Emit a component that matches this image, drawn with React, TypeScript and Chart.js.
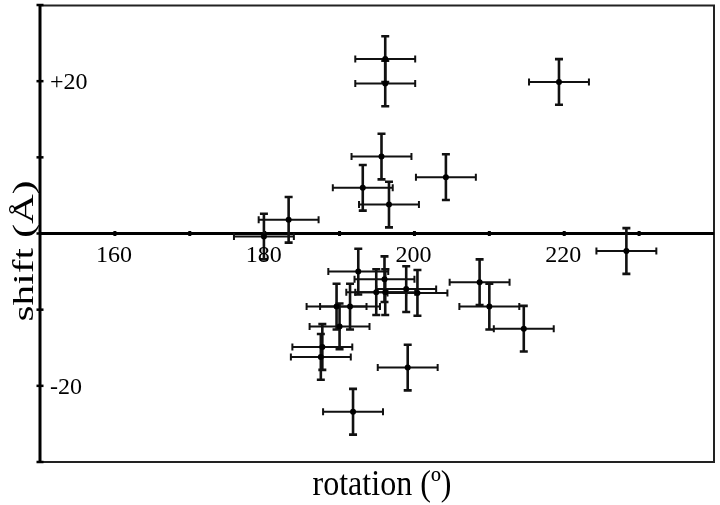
import React, { useEffect, useRef } from 'react';
import { Chart, registerables } from 'chart.js';

Chart.register(...registerables);

// ---- data ----
const rotation = [
  196.1, 196.1, 195.6, 193.1, 196.6, 204.2, 219.3, 228.3, 183.2, 179.9,
  192.5, 196.0, 194.9, 196.1, 198.9, 200.4, 189.6, 191.4, 190.0, 187.7,
  187.5, 199.1, 191.8, 208.7, 210.0, 214.6,
];
const shift = [
  22.9, 19.7, 10.1, 6.0, 3.8, 7.4, 19.9, -2.3, 1.8, -0.4,
  -5.0, -6.0, -7.7, -7.7, -7.3, -7.8, -9.6, -9.6, -12.2, -14.9,
  -16.2, -17.6, -23.4, -6.4, -9.6, -12.5,
];
const rotationErr = [
  4, 4, 4, 4, 4, 4, 4, 4, 4, 4,
  4, 4, 4, 4, 4, 4, 4, 4, 4, 4,
  4, 4, 4, 4, 4, 4,
];
const shiftErr = [
  3, 3, 3, 3, 3, 3, 3, 3, 3, 3,
  3, 3, 3, 3, 3, 3, 3, 3, 3, 3,
  3, 3, 3, 3, 3, 3,
];

const xTickValues = [160, 170, 180, 190, 200, 210, 220, 230];
const xTickLabels = ['160', '', '180', '', '200', '', '220', ''];
const yTickValues = [-30, -20, -10, 0, 10, 20, 30];
const yTickLabels = ['', '-20', '', '', '', '+20', ''];
const xTitle = 'rotation (º)';
const yTitle = 'shift (Å)';

const X_MIN = 150;
const X_MAX = 240;
const Y_MIN = -30;
const Y_MAX = 30;

const SERIF = "'Liberation Serif', 'DejaVu Serif', serif";
const INK = '#000';

const customPlugin = {
  id: 'sciAxes',
  beforeDatasetsDraw(chart: any) {
    const { ctx, chartArea, scales } = chart;
    const xs = scales.x;
    const ys = scales.y;
    const { left, right, top, bottom } = chartArea;
    ctx.save();

    // frame
    ctx.strokeStyle = '#222';
    ctx.lineWidth = 2;
    ctx.beginPath();
    ctx.moveTo(left, top + 0.5);
    ctx.lineTo(right, top + 0.5);
    ctx.lineTo(right, bottom);
    ctx.lineTo(left, bottom);
    ctx.stroke();

    // left axis
    ctx.strokeStyle = INK;
    ctx.lineWidth = 3;
    ctx.beginPath();
    ctx.moveTo(left, top);
    ctx.lineTo(left, bottom);
    ctx.stroke();

    // y ticks
    ctx.lineWidth = 2.5;
    yTickValues.forEach((v) => {
      const py = ys.getPixelForValue(v);
      ctx.beginPath();
      ctx.moveTo(left - 3.5, py);
      ctx.lineTo(left + 3.5, py);
      ctx.stroke();
    });

    // zero line (x axis)
    const y0 = ys.getPixelForValue(0);
    ctx.lineWidth = 3;
    ctx.beginPath();
    ctx.moveTo(left, y0);
    ctx.lineTo(right, y0);
    ctx.stroke();

    // x ticks
    ctx.lineWidth = 3;
    xTickValues.forEach((v) => {
      const px = xs.getPixelForValue(v);
      ctx.beginPath();
      ctx.moveTo(px, y0 - 2.5);
      ctx.lineTo(px, y0 + 2.5);
      ctx.stroke();
    });

    // error bars
    ctx.strokeStyle = '#111';
    rotation.forEach((xv, i) => {
      const yv = shift[i];
      const px = xs.getPixelForValue(xv);
      const py = ys.getPixelForValue(yv);
      const x1 = xs.getPixelForValue(xv - rotationErr[i]);
      const x2 = xs.getPixelForValue(xv + rotationErr[i]);
      const y1 = ys.getPixelForValue(yv - shiftErr[i]);
      const y2 = ys.getPixelForValue(yv + shiftErr[i]);
      // horizontal
      ctx.lineWidth = 2;
      ctx.beginPath();
      ctx.moveTo(x1, py);
      ctx.lineTo(x2, py);
      ctx.moveTo(x1, py - 3.5);
      ctx.lineTo(x1, py + 3.5);
      ctx.moveTo(x2, py - 3.5);
      ctx.lineTo(x2, py + 3.5);
      ctx.stroke();
      // vertical
      ctx.lineWidth = 2.6;
      ctx.beginPath();
      ctx.moveTo(px, y1);
      ctx.lineTo(px, y2);
      ctx.moveTo(px - 4, y1);
      ctx.lineTo(px + 4, y1);
      ctx.moveTo(px - 4, y2);
      ctx.lineTo(px + 4, y2);
      ctx.stroke();
    });

    ctx.restore();
  },
  afterDraw(chart: any) {
    const { ctx, chartArea, scales } = chart;
    const xs = scales.x;
    const ys = scales.y;
    const { left } = chartArea;
    const y0 = ys.getPixelForValue(0);
    ctx.save();
    ctx.fillStyle = INK;

    // x tick labels
    ctx.font = `24px ${SERIF}`;
    ctx.textAlign = 'center';
    ctx.textBaseline = 'alphabetic';
    xTickValues.forEach((v, i) => {
      const lab = xTickLabels[i];
      if (!lab) return;
      ctx.fillText(lab, xs.getPixelForValue(v) - 1, y0 + 28);
    });

    // y tick labels (inside)
    ctx.textAlign = 'left';
    yTickValues.forEach((v, i) => {
      const lab = yTickLabels[i];
      if (!lab) return;
      const py = ys.getPixelForValue(v);
      ctx.fillText(lab, left + 10, py + 8);
    });

    // x title
    ctx.font = `35px ${SERIF}`;
    ctx.textAlign = 'center';
    const wx = ctx.measureText(xTitle).width;
    ctx.save();
    ctx.translate(382, 495);
    ctx.scale(139 / wx, 1);
    ctx.fillText(xTitle, 0, 0);
    ctx.restore();

    // y title
    ctx.font = `29px ${SERIF}`;
    const wy = ctx.measureText(yTitle).width;
    ctx.save();
    ctx.translate(33, 251);
    ctx.rotate(-Math.PI / 2);
    ctx.scale(141 / wy, 1);
    ctx.fillText(yTitle, 0, 0);
    ctx.restore();

    ctx.restore();
  },
};

export default function App() {
  const canvasRef = useRef<HTMLCanvasElement | null>(null);

  useEffect(() => {
    const canvas = canvasRef.current;
    if (!canvas) return;
    const chart = new Chart(canvas, {
      type: 'scatter',
      data: {
        datasets: [
          {
            label: 'shift vs rotation',
            data: rotation.map((x, i) => ({ x, y: shift[i] })),
            pointRadius: 3,
            pointHoverRadius: 3,
            backgroundColor: INK,
            borderColor: INK,
            borderWidth: 0,
            clip: false as any,
          },
        ],
      },
      options: {
        responsive: false,
        animation: false,
        devicePixelRatio: 1,
        layout: { padding: { left: 40, top: 5, right: 6, bottom: 43 } },
        scales: {
          x: { type: 'linear', min: X_MIN, max: X_MAX, display: false },
          y: { type: 'linear', min: Y_MIN, max: Y_MAX, display: false },
        },
        plugins: {
          legend: { display: false },
          tooltip: { enabled: false },
          title: { display: false },
        },
        events: [],
      },
      plugins: [customPlugin],
    });
    return () => chart.destroy();
  }, []);

  return (
    <div style={{ position: 'absolute', left: 0, top: 0, width: 720, height: 505, background: '#fff' }}>
      <canvas ref={canvasRef} width={720} height={505} />
    </div>
  );
}
